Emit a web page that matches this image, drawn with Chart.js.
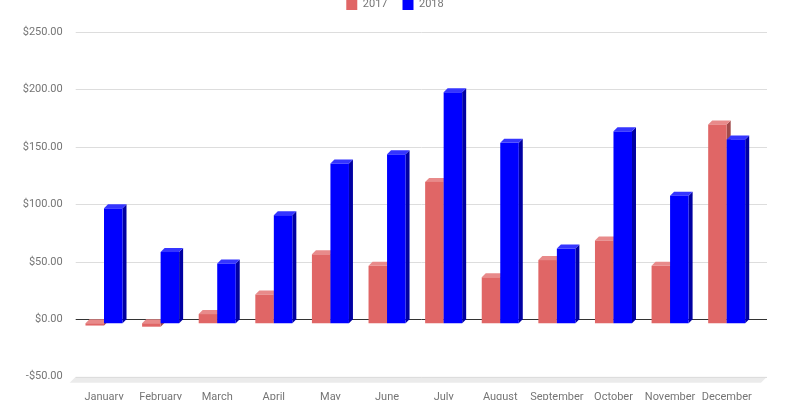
<!DOCTYPE html>
<html>
<head>
<meta charset="utf-8">
<script src="https://cdn.jsdelivr.net/npm/chart.js@4.4.0/dist/chart.umd.min.js"></script>
<style>
  html, body { margin: 0; padding: 0; background: #fff; }
  #wrap { position: relative; width: 790px; height: 400px; overflow: hidden; }
  /* the legend sits half above the top edge in the picture */
  #chart { position: absolute; left: 0; top: -16px; }
</style>
</head>
<body>
<div id="wrap"><canvas id="chart" width="790" height="416"></canvas></div>
<script>
// months on the x axis
var months = ["January", "February", "March", "April", "May", "June",
              "July", "August", "September", "October", "November", "December"];

// sales per month
var sales2017 = [-2, -3, 8, 25, 60, 50, 123, 40, 55, 72, 50, 173];
var sales2018 = [100, 62, 52, 94, 139, 147, 201, 157, 65, 167, 111, 160];

// y axis range
var yMin = -50;
var yMax = 250;
var yStep = 50;

// colours for the three faces of each bar
var faces = [
  { front: "#e06666", top: "#e88a8a", side: "#a04a4a" },
  { front: "#0000ff", top: "#3535ff", side: "#0000a3" }
];

var depth = 4;

// extra room under the legend
var legendGap = {
  id: "legendGap",
  beforeInit: function(chart) {
    var fit = chart.legend.fit;
    chart.legend.fit = function() {
      fit.bind(chart.legend)();
      this.height += 12;
    };
  }
};

// draws the back grid, the floor and the 3d bars
var bars3d = {
  id: "bars3d",
  beforeDatasetsDraw: function(chart) {
    var ctx = chart.ctx;
    var area = chart.chartArea;
    var y = chart.scales.y;
    var right = area.right + 12;

    // floor
    ctx.save();
    ctx.fillStyle = "#ebebeb";
    ctx.beginPath();
    ctx.moveTo(area.left, area.bottom);
    ctx.lineTo(right, area.bottom);
    ctx.lineTo(right - 6, area.bottom + 6);
    ctx.lineTo(area.left - 6, area.bottom + 6);
    ctx.closePath();
    ctx.fill();

    // grid lines
    y.ticks.forEach(function(t) {
      var py = Math.round(y.getPixelForValue(t.value)) + 0.5;
      ctx.strokeStyle = t.value === 0 ? "#333333" : "#dddddd";
      ctx.lineWidth = 1;
      ctx.beginPath();
      ctx.moveTo(area.left, py);
      ctx.lineTo(right, py);
      ctx.stroke();
    });
    ctx.restore();
  },
  beforeDatasetDraw: function() {
    return false;
  },
  afterDatasetsDraw: function(chart) {
    var ctx = chart.ctx;
    var metas = [chart.getDatasetMeta(0), chart.getDatasetMeta(1)];
    ctx.save();
    for (var i = 0; i < months.length; i++) {
      for (var d = 0; d < metas.length; d++) {
        var bar = metas[d].data[i];
        var c = faces[d];
        var w = bar.width;
        var fx = bar.x - w / 2;
        var top = Math.min(bar.y, bar.base);
        var bot = Math.max(bar.y, bar.base);

        // side
        ctx.fillStyle = c.side;
        ctx.beginPath();
        ctx.moveTo(fx + w, top + depth);
        ctx.lineTo(fx + w + depth, top);
        ctx.lineTo(fx + w + depth, bot);
        ctx.lineTo(fx + w, bot + depth);
        ctx.closePath();
        ctx.fill();

        // top
        ctx.fillStyle = c.top;
        ctx.beginPath();
        ctx.moveTo(fx, top + depth);
        ctx.lineTo(fx + depth, top);
        ctx.lineTo(fx + w + depth, top);
        ctx.lineTo(fx + w, top + depth);
        ctx.closePath();
        ctx.fill();

        // front
        ctx.fillStyle = c.front;
        ctx.fillRect(fx, top + depth, w, bot - top);
      }
    }
    ctx.restore();
  }
};

Chart.defaults.font.family = "Roboto";
Chart.defaults.font.size = 11;
Chart.defaults.color = "#757575";

var chart = new Chart(document.getElementById("chart"), {
  type: "bar",
  data: {
    labels: months,
    datasets: [
      { label: "2017", data: sales2017, backgroundColor: faces[0].front, borderWidth: 0 },
      { label: "2018", data: sales2018, backgroundColor: faces[1].front, borderWidth: 0 }
    ]
  },
  options: {
    responsive: false,
    animation: false,
    layout: { padding: 0 },
    datasets: {
      bar: { barPercentage: 1, categoryPercentage: 0.654 }
    },
    plugins: {
      legend: {
        position: "top",
        labels: { boxWidth: 11, boxHeight: 11, padding: 15, font: { size: 11 } }
      },
      tooltip: { enabled: false }
    },
    scales: {
      x: {
        grid: { display: false, drawTicks: false },
        border: { display: false },
        ticks: { padding: 14, maxRotation: 0, autoSkip: false },
        afterFit: function(scale) { scale.height = 23.3; }
      },
      y: {
        min: yMin,
        max: yMax,
        grid: { display: false, drawTicks: false },
        border: { display: false },
        ticks: {
          stepSize: yStep,
          padding: 13,
          callback: function(v) {
            return (v < 0 ? "-$" : "$") + Math.abs(v).toFixed(2);
          }
        },
        afterFit: function(scale) { scale.width = 75.7; }
      },
      // empty axis on the right, only to keep room for the 3d depth
      yRight: {
        position: "right",
        grid: { display: false, drawTicks: false },
        border: { display: false },
        ticks: { display: false },
        afterFit: function(scale) { scale.width = 35; }
      }
    }
  },
  plugins: [legendGap, bars3d]
});
</script>
</body>
</html>
